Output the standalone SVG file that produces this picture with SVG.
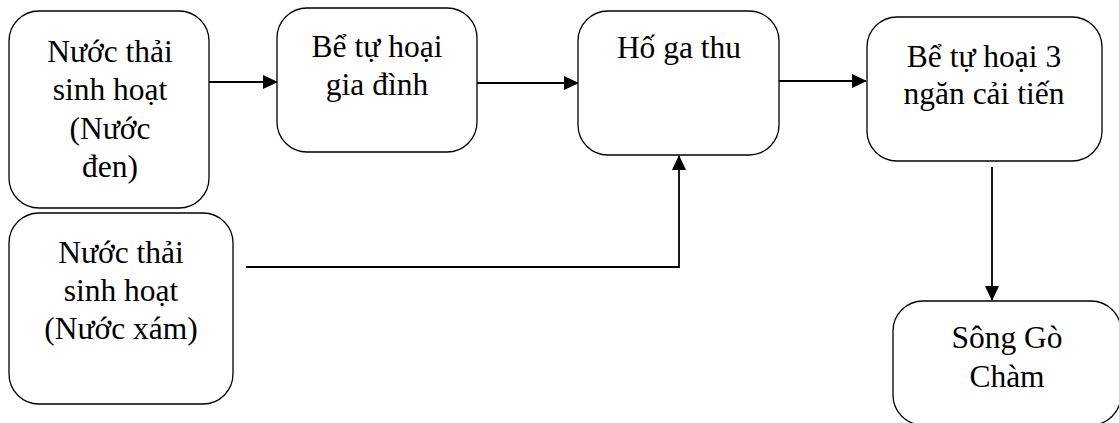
<svg xmlns="http://www.w3.org/2000/svg" width="1119" height="423" viewBox="0 0 1119 423" font-family="Liberation Serif, Times New Roman, serif">
  <style>
    .box { fill: #ffffff; stroke: #000000; stroke-width: 1.3; }
    .lbl { font-size: 31.5px; fill: #000000; text-anchor: middle; }
    .wire { fill: none; stroke: #000000; stroke-width: 1.8; }
  </style>
  <defs>
    <marker id="arrow" viewBox="0 0 15 14" refX="14" refY="7" markerWidth="15" markerHeight="14" markerUnits="userSpaceOnUse" orient="auto">
      <path d="M0,0 L15,7 L0,14 Z" fill="#000000"/>
    </marker>
  </defs>
  <rect width="1119" height="423" fill="#ffffff"/>

  <g id="connectors">
    <line class="wire" x1="209" y1="82" x2="277" y2="82" marker-end="url(#arrow)"/>
    <line class="wire" x1="477" y1="83" x2="578" y2="83" marker-end="url(#arrow)"/>
    <line class="wire" x1="779" y1="81" x2="866" y2="81" marker-end="url(#arrow)"/>
    <polyline class="wire" points="246,267 679,267 679,156" marker-end="url(#arrow)"/>
    <line class="wire" x1="992" y1="167" x2="992" y2="300" marker-end="url(#arrow)"/>
  </g>

  <g id="nuoc-den">
    <rect class="box" x="9" y="11" width="200" height="197" rx="30"/>
    <text class="lbl" x="110" y="62">Nước thải</text>
    <text class="lbl" x="110" y="100">sinh hoạt</text>
    <text class="lbl" x="110" y="139">(Nước</text>
    <text class="lbl" x="110" y="177">đen)</text>
  </g>

  <g id="be-tu-hoai-gia-dinh">
    <rect class="box" x="277" y="8" width="200" height="144" rx="30"/>
    <text class="lbl" x="377" y="57">Bể tự hoại</text>
    <text class="lbl" x="377" y="95">gia đình</text>
  </g>

  <g id="ho-ga-thu">
    <rect class="box" x="578" y="11" width="201" height="144" rx="30"/>
    <text class="lbl" x="679" y="58">Hố ga thu</text>
  </g>

  <g id="be-tu-hoai-3-ngan">
    <rect class="box" x="867" y="17" width="235" height="144" rx="30"/>
    <text class="lbl" x="984" y="67">Bể tự hoại 3</text>
    <text class="lbl" x="984" y="104">ngăn cải tiến</text>
  </g>

  <g id="nuoc-xam">
    <rect class="box" x="9" y="213" width="224" height="191" rx="30"/>
    <text class="lbl" x="121" y="263">Nước thải</text>
    <text class="lbl" x="121" y="301">sinh hoạt</text>
    <text class="lbl" x="121" y="339">(Nước xám)</text>
  </g>

  <g id="song-go-cham">
    <rect class="box" x="893" y="301" width="228" height="124" rx="30"/>
    <text class="lbl" x="1007" y="348">Sông Gò</text>
    <text class="lbl" x="1007" y="387">Chàm</text>
  </g>
</svg>
